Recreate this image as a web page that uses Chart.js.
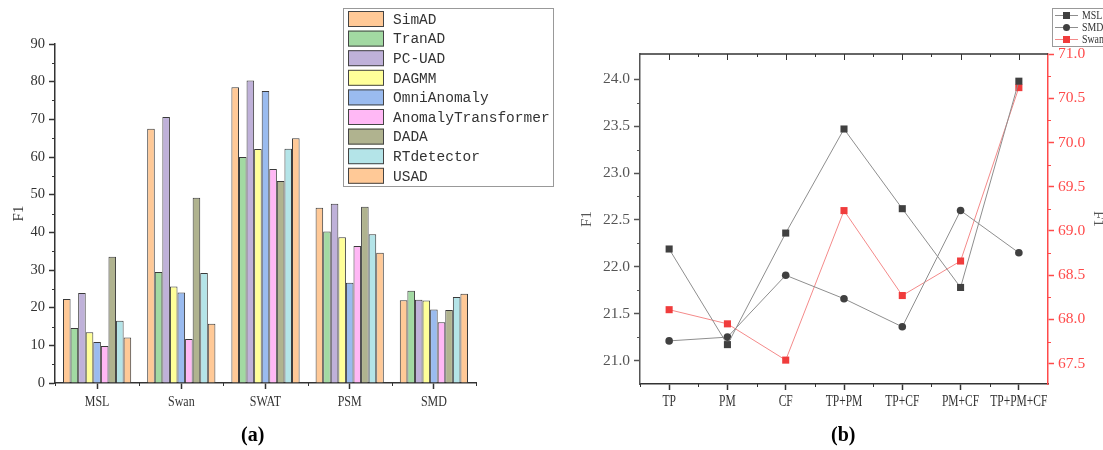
<!DOCTYPE html>
<html>
<head>
<meta charset="utf-8">
<script src="https://cdn.jsdelivr.net/npm/chart.js@4.4.0/dist/chart.umd.min.js"></script>
<style>
  body { margin: 0; width: 1103px; height: 450px; overflow: hidden; background: #fff; position: relative; }
  #wa { position: absolute; left: 0; top: 0; width: 560px; height: 450px; }
  #wb { position: absolute; left: 560px; top: 0; width: 560px; height: 450px; }
  .cap { position: absolute; top: 423px; font: bold 20px "Liberation Serif", serif; color: #000; }
</style>
</head>
<body>
<div id="wa"><canvas id="chartA" width="560" height="450"></canvas></div>
<div id="wb"><canvas id="chartB" width="560" height="450"></canvas></div>
<div class="cap" style="left:241px">(a)</div>
<div class="cap" style="left:831px">(b)</div>
<script>
// ---- (a) F1 per dataset and method
const datasetNames = ['MSL', 'Swan', 'SWAT', 'PSM', 'SMD'];
const methods = ['SimAD', 'TranAD', 'PC-UAD', 'DAGMM', 'OmniAnomaly', 'AnomalyTransformer', 'DADA', 'RTdetector', 'USAD'];
const simad     = [22.3, 67.5, 78.5, 46.5, 22.0];
const tranad    = [14.6, 29.5, 60.0, 40.2, 24.5];
const pcuad     = [23.9, 70.6, 80.3, 47.6, 22.1];
const dagmm     = [13.5, 25.6, 62.1, 38.7, 21.9];
const omni      = [10.9, 24.0, 77.5, 26.6, 19.5];
const anomTrans = [9.8, 11.7, 56.8, 36.4, 16.1];
const dada      = [33.5, 49.2, 53.6, 46.8, 19.4];
const rtdet     = [16.5, 29.2, 62.2, 39.5, 22.8];
const usad      = [12.1, 15.7, 65.0, 34.6, 23.7];
const yTicksA = [0, 10, 20, 30, 40, 50, 60, 70, 80, 90];

// ---- (b) ablation
const combos = ['TP', 'PM', 'CF', 'TP+PM', 'TP+CF', 'PM+CF', 'TP+PM+CF'];
const mslF1  = [22.19, 21.17, 22.36, 23.47, 22.62, 21.78, 23.98];
const smdF1  = [21.21, 21.25, 21.91, 21.66, 21.36, 22.60, 22.15];
const swanF1 = [68.11, 67.95, 67.54, 69.23, 68.27, 68.66, 70.62];
const leftTicks  = [21.0, 21.5, 22.0, 22.5, 23.0, 23.5, 24.0];
const rightTicks = [67.5, 68.0, 68.5, 69.0, 69.5, 70.0, 70.5, 71.0];

const barColors = ['#FFC997', '#A2D9A2', '#BFB1D9', '#FFFF99', '#9ABBEF', '#FFB8F5', '#B0B38F', '#B4E4E8', '#FFC997'];
const scores = [simad, tranad, pcuad, dagmm, omni, anomTrans, dada, rtdet, usad];
const serif = 'Liberation Serif';

function seg(ctx, x1, y1, x2, y2) {
  ctx.beginPath(); ctx.moveTo(x1, y1); ctx.lineTo(x2, y2); ctx.stroke();
}

// category labels in a narrow face, like the original
function narrowLabels(chart, size, squeeze, yMid) {
  const { ctx, scales: { x } } = chart;
  ctx.save();
  ctx.font = size + 'px "Liberation Serif", serif';
  ctx.fillStyle = '#333';
  ctx.textAlign = 'center';
  ctx.textBaseline = 'middle';
  chart.data.labels.forEach((lab, i) => {
    const px = x.getPixelForValue(i);
    ctx.save();
    ctx.translate(px, yMid);
    ctx.scale(squeeze, 1);
    ctx.fillText(lab, 0, 0);
    ctx.restore();
  });
  ctx.restore();
}

const extrasA = {
  id: 'extrasA',
  afterDraw(chart) {
    const { ctx, scales: { x, y } } = chart;
    narrowLabels(chart, 15, 0.8, 402);
    ctx.save();
    ctx.strokeStyle = '#333'; ctx.lineWidth = 1;
    for (let i = 0; i < yTicksA.length - 1; i++) {
      const py = Math.round(y.getPixelForValue((yTicksA[i] + yTicksA[i + 1]) / 2)) + 0.5;
      seg(ctx, x.left - 3, py, x.left, py);
    }
    const n = datasetNames.length, w = (x.right - x.left) / n;
    for (let i = 0; i <= n; i++) {
      const px = Math.round(x.left + i * w) + 0.5;
      seg(ctx, px, y.bottom, px, y.bottom + 3);
    }
    // legend
    const lx = 343, ly = 8, lw = 210, lh = 178;
    ctx.strokeStyle = '#999';
    ctx.strokeRect(lx + 0.5, ly + 0.5, lw, lh);
    ctx.font = '14.5px "Liberation Mono", monospace';
    ctx.textBaseline = 'middle';
    chart.data.datasets.forEach((ds, i) => {
      const ry = ly + 3 + i * 19.6;
      ctx.fillStyle = ds.backgroundColor;
      ctx.fillRect(lx + 5, ry, 36, 16);
      ctx.strokeStyle = '#444';
      ctx.strokeRect(lx + 5.5, ry + 0.5, 35, 15);
      ctx.fillStyle = '#333';
      ctx.fillText(ds.label, lx + 50, ry + 9);
    });
    ctx.restore();
  }
};

new Chart(document.getElementById('chartA'), {
  type: 'bar',
  data: {
    labels: datasetNames,
    datasets: methods.map((m, i) => ({
      label: m,
      data: scores[i],
      backgroundColor: barColors[i],
      borderColor: '#3a3a3a',
      borderWidth: 1,
      categoryPercentage: 0.81,
      barPercentage: 1.0
    }))
  },
  options: {
    responsive: false,
    animation: false,
    layout: { padding: { left: 0, right: 84, top: 44, bottom: 0 } },
    plugins: { legend: { display: false }, tooltip: { enabled: false } },
    scales: {
      x: {
        grid: { drawOnChartArea: false, offset: false, tickLength: 6, color: '#333', tickWidth: 1.5 },
        border: { color: '#333', width: 1.5 },
        ticks: { font: { family: serif, size: 13 }, color: 'rgba(0,0,0,0)', padding: 6 },
        afterFit(s) { s.height = 67; }
      },
      y: {
        min: 0, max: 90,
        afterBuildTicks(s) { s.ticks = yTicksA.map(v => ({ value: v })); },
        grid: { drawOnChartArea: false, tickLength: 6, color: '#333', tickWidth: 1.5 },
        border: { color: '#333', width: 1.5 },
        ticks: { font: { family: serif, size: 14.5 }, color: '#333', padding: 4 },
        title: { display: true, text: 'F1', font: { family: serif, size: 15 }, color: '#333', padding: { top: 10, bottom: 0 } },
        afterFit(s) { s.width = 55; }
      }
    }
  },
  plugins: [extrasA]
});

// ---- chart (b)
const extrasB = {
  id: 'extrasB',
  afterDraw(chart) {
    const { ctx, scales: { x, y, y1 } } = chart;
    narrowLabels(chart, 16, 0.72, 402);
    ctx.save();
    ctx.strokeStyle = '#333';
    const n = combos.length, w = (x.right - x.left) / n;
    ctx.lineWidth = 1.5;
    seg(ctx, x.left, y.top, x.right, y.top);
    ctx.lineWidth = 1;
    for (let i = 0; i < n; i++) {
      const c = Math.round(x.left + (i + 0.5) * w) + 0.5;
      seg(ctx, c, y.top, c, y.top + 6);
      if (i > 0) {
        const b = Math.round(x.left + i * w) + 0.5;
        seg(ctx, b, y.top, b, y.top + 3);
        seg(ctx, b, y.bottom, b, y.bottom + 3);
      }
    }
    seg(ctx, x.left + 0.5, y.bottom, x.left + 0.5, y.bottom + 3);
    ctx.strokeStyle = '#555';
    for (let i = 0; i < leftTicks.length - 1; i++) {
      const py = Math.round(y.getPixelForValue((leftTicks[i] + leftTicks[i + 1]) / 2)) + 0.5;
      seg(ctx, x.left - 3, py, x.left, py);
    }
    ctx.strokeStyle = '#ff4a4a';
    for (let i = 0; i < rightTicks.length - 1; i++) {
      const py = Math.round(y1.getPixelForValue((rightTicks[i] + rightTicks[i + 1]) / 2)) + 0.5;
      seg(ctx, x.right, py, x.right + 3, py);
    }
    // legend
    const lx = 492, ly = 8;
    ctx.strokeStyle = '#999';
    ctx.strokeRect(lx + 0.5, ly + 0.5, 80, 38);
    ctx.font = '12px "Liberation Serif", serif';
    ctx.textBaseline = 'middle';
    chart.data.datasets.forEach((ds, i) => {
      const ry = ly + 7.5 + i * 12;
      ctx.strokeStyle = ds.borderColor;
      seg(ctx, lx + 3, ry, lx + 26, ry);
      ctx.fillStyle = ds.pointBackgroundColor;
      if (ds.pointStyle === 'circle') {
        ctx.beginPath(); ctx.arc(lx + 14.5, ry, 3.5, 0, Math.PI * 2); ctx.fill();
      } else {
        ctx.fillRect(lx + 11, ry - 3.5, 7, 7);
      }
      ctx.fillStyle = '#333';
      ctx.save();
      ctx.translate(lx + 30, ry + 0.5);
      ctx.scale(0.82, 1);
      ctx.fillText(ds.label, 0, 0);
      ctx.restore();
    });
    ctx.restore();
  }
};

new Chart(document.getElementById('chartB'), {
  type: 'line',
  data: {
    labels: combos,
    datasets: [
      { label: 'MSL', data: mslF1, yAxisID: 'y', borderColor: '#8e8e8e', borderWidth: 1,
        pointStyle: 'rect', pointRadius: 5, pointBackgroundColor: '#404040', pointBorderColor: '#404040', pointBorderWidth: 0 },
      { label: 'SMD', data: smdF1, yAxisID: 'y', borderColor: '#8e8e8e', borderWidth: 1,
        pointStyle: 'circle', pointRadius: 3.8, pointBackgroundColor: '#404040', pointBorderColor: '#404040', pointBorderWidth: 0 },
      { label: 'Swan', data: swanF1, yAxisID: 'y1', borderColor: '#f48a8a', borderWidth: 1,
        pointStyle: 'rect', pointRadius: 5, pointBackgroundColor: '#f03c3c', pointBorderColor: '#f03c3c', pointBorderWidth: 0 }
    ]
  },
  options: {
    responsive: false,
    animation: false,
    layout: { padding: { left: 0, right: 0, top: 54, bottom: 0 } },
    plugins: { legend: { display: false }, tooltip: { enabled: false } },
    scales: {
      x: {
        offset: true,
        grid: { drawOnChartArea: false, offset: false, tickLength: 6, color: '#333', tickWidth: 1.5 },
        border: { color: '#333', width: 1.5 },
        ticks: { font: { family: serif, size: 12 }, color: 'rgba(0,0,0,0)', padding: 5, maxRotation: 0, autoSkip: false },
        afterFit(s) { s.height = 66; }
      },
      y: {
        position: 'left', min: 20.75, max: 24.27,
        afterBuildTicks(s) { s.ticks = leftTicks.map(v => ({ value: v })); },
        grid: { drawOnChartArea: false, tickLength: 6, color: '#555', tickWidth: 1.5 },
        border: { color: '#555', width: 1.5 },
        ticks: { font: { family: serif, size: 15.5 }, color: '#555', padding: 4, callback: v => v.toFixed(1) },
        title: { display: true, text: 'F1', font: { family: serif, size: 15 }, color: '#555', padding: { top: 18, bottom: 0 } },
        afterFit(s) { s.width = 80; }
      },
      y1: {
        position: 'right', min: 67.27, max: 71.0,
        afterBuildTicks(s) { s.ticks = rightTicks.map(v => ({ value: v })); },
        grid: { drawOnChartArea: false, tickLength: 6, color: '#ff4a4a', tickWidth: 1.5 },
        border: { color: '#ff4a4a', width: 1.5 },
        ticks: { font: { family: serif, size: 15.5 }, color: '#ff4a4a', padding: 4, callback: v => v.toFixed(1) },
        title: { display: true, text: 'F1', font: { family: serif, size: 15 }, color: '#555', padding: { top: 13, bottom: 0 } },
        afterFit(s) { s.width = 72; }
      }
    }
  },
  plugins: [extrasB]
});
</script>
</body>
</html>
